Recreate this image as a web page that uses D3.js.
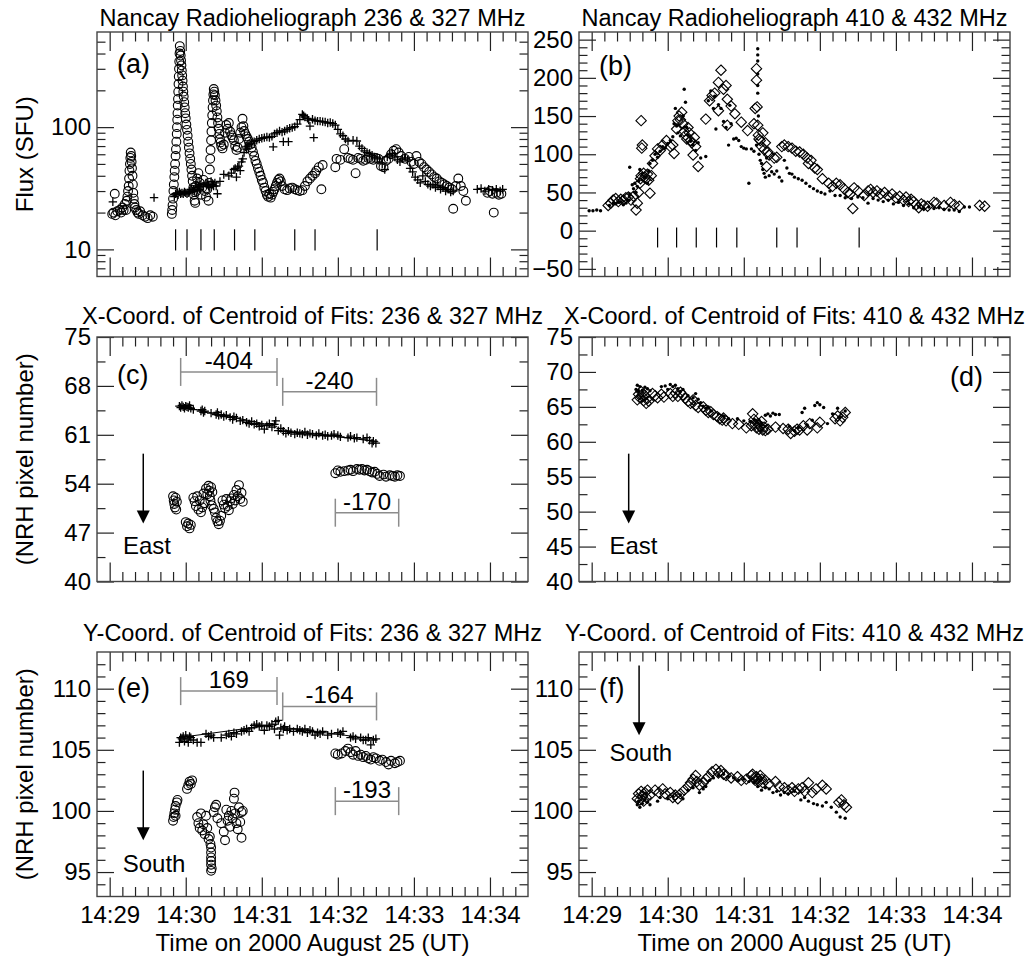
<!DOCTYPE html>
<html>
<head>
<meta charset="utf-8">
<script src="https://cdn.jsdelivr.net/npm/d3@7"></script>
<style>
  body { margin: 0; background: #fff; }
  svg text { font-family: 'Liberation Sans', Arial, Helvetica, sans-serif; }
</style>
</head>
<body>
<svg id="chart" width="1034" height="965"></svg>
<script>
// ---- Observations: [seconds after 14:29:00 UT, value] ----

// (a) flux, 236 MHz (circles) and 327 MHz (plus signs), SFU
const flux236 = [
  [2,19.5],[3,20],[4,28.5],[4.5,19],[6,20.5],[8,21],[9,20],[10,22],[11,21],[12,23.5],[13,21],[13.5,25],[14,27],[14.5,30],[15,33],[15.3,38],[15.6,44],[16,50],[16.3,56],[16.6,62],[17,58],[17.3,52],[17.6,46],[18,40],[18.3,34],[18.6,29],[19,26],[19.5,23.5],[20,22],[21,21],[22,20],[23,19.5],[24,20.5],[26,19],[28,18.5],[30,18],[32,19],[34,18.5],
  [49,19.5],[49.3,21],[49.6,23],[50,26],[50.3,30],[50.6,34],[51,39],[51.3,44],[51.6,50],[52,58],[52.3,66],[52.6,76],[52.9,88],[53.1,100],[53.3,115],[53.5,130],[53.7,150],[53.9,170],[54.1,195],[54.3,225],[54.5,260],[54.7,300],[54.9,345],[55.1,400],[55.3,460],[55.7,420],[56,385],[56.3,350],[56.6,320],[56.9,290],[57.2,265],[57.5,240],[57.8,215],[58.1,195],[58.4,178],[58.8,160],[59.2,145],[59.6,130],[60,118],[60.5,105],[61,95],[61.5,85],[62,76],[62.5,68],[63,61],[63.5,55],[64,50],[64.5,45],[65,40],[65.5,36],[66,32],[66.5,28],[67,25],[67.5,24],[68,33],[68.5,30],[69,38],[70,42],[71,35],[72,28],[73,32],[74,37],[75,30],[76,27],[77,31],[78,25],
  [78.5,35],[79,45],[79.3,55],[79.6,65],[80,78],[80.3,92],[80.6,108],[80.9,125],[81.2,145],[81.5,165],[81.8,185],[82.1,205],[82.5,195],[83,182],[83.5,165],[84,150],[84.5,135],[85,120],[85.5,108],[86,97],[86.5,88],[87,80],[87.5,75],[88,70],[89,67],[90,72],[91,90],[92,104],[93,97],[94,108],[95,92],[96,86],[97,82],[98,78],[99,70],[100,65],[101,68],[102,80],[103,90],[104,100],[104.8,117],[105.5,102],[106,93],[107,88],[108,84],[109,80],[110,76],[111,72],[112,68],[113,63],[114,58],[115,53],[116,50],[117,46],[118,43],[119,40],[120,37],[121,35],[122,32],[123,30],[124,28],[125,27],[126,28.5],[127,26.5],[128,28],[129,29.5],[130,31],[131,33],[132,35],[133,37],[134,38],[135,36],[136,33],[138,31],[140,30.5],[142,31.5],[144,32],[146,31],[148,30.5],[150,30],[152,30.5],[154,33],[156,36],[158,38],[160,40],[162,42],[163,44],[165,47],[167,31],[168,49],
  [178,47],[179,55],[182,54],[185,66],[188,56],[190,55],[192,54],[194,42],[196,56],[198,55],[200,53],[202,54],[204,56],[206,55],[208,54],[210,56],[212,55],[214,48],[216,47],[218,53],[220,55],[222,60],[224,64],[226,66],[228,62],[230,58],[233,55],[236,57],[238,52],[240,50],[242,58],[244,52],[246,50],[248,47],[250,45],[252,43],[254,41],[256,39],[258,38],[260,36],[262,35],[264,34],[266,33],[268,32],[270,31],[271,21.5],[273,33],[275,38],[277,33],[279,30],[281,25],[298,29],[300,30],[302,28.5],[303,20],[305,29],[307,28],[309,28.5]
];
const flux327 = [
  [2.5,24.5],[35,26.5],[51,27],[52,28.5],[53,29],[54,28],[55,29.5],[56,28.5],[57,29],[58,28.5],[59,29.5],[60,29],[61,28.5],[62,29],[63,30],[64,31],[65,29.5],[66,31],[67,30],[68,32],[69,30.5],[70,33],[71,31],[72,34],[74,33],[76,35],[77,34],[78,33],[79,32],[80,36],[81,34],[82,33],[83,35],[84,33],[85,28.5],[87,36],[90,41],[94,40],[96,42],[98,45],[99,46],[100,39],[101,47],[102,48],[103,44],[104,52],[105,55],[106,62],[107,69],[108,66],[109,70],[110,72],[112,74],[114,76],[116,78],[118,80],[120,81],[122,82],[124,83],[126,82],[128,84],[129,69],[130,88],[132,90],[134,93],[136,91],[137,76],[138,93],[140,96],[141,76],[142,98],[144,99],[146,101],[148,106],[150,115],[152,127],[153,124],[154,121],[156,118],[157,114],[158,102],[160,116],[161,82],[162,113],[164,112],[166,112],[168,111],[170,110],[172,108],[174,109],[176,107],[178,104],[180,96],[182,88],[184,85],[186,80],[188,77],[192,78],[195,77],[197,70],[199,67],[201,64],[203,62],[205,61],[207,59],[209,57],[211,56],[213,55],[215,50],[217,45],[219,57],[221,59],[223,61],[225,57],[227,54],[229,52],[231,55],[233,56],[235,54],[237,46],[239,43],[241,39],[243,37],[245,35],[247,40],[249,36],[251,34],[253,33],[255,34],[257,32],[259,33],[261,31],[263,32],[265,30],[267,31],[269,29.5],[271,30],[290,31],[293,31.5],[296,30],[299,31],[302,30.5],[305,31],[308,30],[310,31]
];
// burst-onset markers (seconds)
const markLow = [52, 61, 72, 82.5, 98.5, 114.5, 146, 162, 211];
const markHigh = [52, 67, 82.5, 98.5, 114.5, 146, 162, 211];

// (b) flux, 410 MHz (diamonds) and 432 MHz (dots), SFU
const flux410 = [
  [13,33],[15,36],[17,40],[19,42],[21,38],[23,41],[25,40],[27,43],[29,44],[31,40],[33,45],[35,27],[36,36],[37,50],[38,62],[38.5,68],[39,72],[39,144],[39.5,108],[40,112],[41,75],[42,70],[43,68],[44,74],[45,66],[46,49],[47,72],[48,88],[50,98],[52,107],[54,105],[56,112],[59,118],[62,110],[64,112],[65,101],[67,133],[68,144],[69,150],[70,145],[71,155],[72,140],[73,130],[74,125],[75,120],[76,135],[77,128],[78,118],[79,115],[80,99],[81,122],[82,110],[84,84],[90,146],[93,170],[95,177],[97,180],[100,194],[102,210],[100,157],[104,185],[106,190],[107,172],[107,138],[110,163],[113,153],[118,142],[123,131],[128,140],[129,160],[130,212],[130,197],[130.5,162],[131,138],[131.5,125],[132,120],[133,118],[134,110],[135,128],[136,106],[137,115],[138,84],[139,103],[140,99],[144,95],[146,96],[150,110],[152,112],[155,110],[158,108],[161,104],[164,103],[167,100],[170,95],[171,88],[173,92],[176,82],[178,80],[182,68],[187,62],[190,58],[193,62],[196,60],[199,55],[202,50],[204,48],[206,29],[207,56],[210,52],[215,46],[218,52],[220,54],[222,50],[225,52],[228,48],[231,50],[234,45],[237,48],[240,43],[243,45],[246,40],[248,44],[250,38],[252,41],[254,38],[256,34],[258,30],[260,35],[262,33],[265,32],[270,37],[272,36],[278,33],[283,37],[286,34],[290,32],[306,33],[310,32]
];
const flux432 = [
  [-2,26],[1,26],[4,27],[7,26],[14,33],[17,36],[19,35],[21,37],[23,38],[25,34],[27,36],[29,40],[30,83],[30,48],[32,60],[33,55],[34,62],[35,50],[36,58],[37,65],[38,80],[40,75],[42,70],[44,62],[45,78],[46,88],[48,92],[50,100],[52,96],[54,104],[56,110],[58,108],[60,114],[62,118],[64,123],[65,140],[66,160],[67,137],[68,128],[70,124],[72,150],[73,185],[74,168],[75,135],[76,125],[78,117],[80,112],[82,105],[84,115],[86,95],[90,97],[92,170],[94,183],[96,160],[97,176],[98,133],[100,165],[102,160],[104,143],[106,135],[108,112],[109,164],[110,140],[112,120],[114,121],[116,118],[118,110],[120,108],[122,107],[124,62],[126,107],[128,104],[130,112],[131,238],[131,230],[131,222],[131,205],[131,190],[131,180],[131.5,150],[132,100],[133,92],[134,88],[135,80],[136,75],[137,70],[138,95],[140,72],[142,77],[144,74],[146,78],[148,70],[150,65],[152,92],[154,82],[156,75],[158,74],[160,70],[163,68],[166,66],[169,62],[172,58],[175,55],[178,52],[181,50],[184,48],[188,52],[192,46],[196,46],[200,43],[205,42],[210,44],[214,43],[218,36],[222,42],[226,40],[230,38],[234,40],[238,35],[242,37],[246,33],[250,35],[254,30],[258,31],[262,29],[266,31],[270,29],[274,30],[278,28],[282,27],[286,27],[290,25],[294,31],[298,31]
];

// (c) centroid X, NRH pixel number
const x236 = [
  [50,52.2],[50.5,51.6],[51,51.1],[51.5,50.6],[52,52.0],[52.5,50.3],[53,51.4],[60,48.5],[61,47.9],[62,48.3],[63,47.6],[64,48.1],[66,52.0],[67,51.5],[68,50.8],[69,52.2],[70,50.3],[71,51.6],[72,49.9],[73,50.6],[74,52.6],[75,51.2],[76,53.3],[77,52.5],[78,53.7],[78.5,53.0],[79,52.2],[79.5,51.6],[80,53.5],[80.5,50.9],[81,52.8],[82,50.4],[83,49.9],[84,49.1],[85,48.6],[86,48.2],[87,48.7],[88,49.4],[89,51.6],[90,51.0],[91,50.5],[92,51.8],[93,50.8],[94,50.2],[95,51.5],[96,51.9],[97,51.1],[98,52.4],[99,51.6],[100,53.1],[101,52.2],[102,53.8],[103,51.8],[104,52.7],[105,51.4],
  [178,55.5],[180,55.9],[182,55.7],[185,55.8],[188,55.9],[190,56.0],[192,55.8],[195,56.1],[197,56.0],[199,56.1],[201,55.9],[203,56.0],[205,55.8],[207,55.6],[209,55.7],[211,55.4],[213,55.1],[216,55.3],[218,55.0],[221,55.2],[223,55.1],[225,55.0],[227,55.2],[229,55.1]
];
const x327 = [
  [55,65.1],[56,64.9],[57,65.2],[58,65.0],[59,64.8],[60,65.1],[61,65.0],[62,64.9],[63,65.2],[64,64.8],[66,64.6],[72,64.4],[73,64.6],[74,64.2],[75,64.4],[80,64.1],[84,63.9],[85,64.2],[86,63.8],[88,63.9],[90,63.6],[92,63.8],[95,63.5],[97,63.2],[98,63.6],[100,63.4],[103,63.0],[105,63.1],[108,62.8],[110,62.6],[112,62.9],[114,62.5],[116,62.6],[118,62.2],[120,62.4],[122,61.8],[124,62.3],[126,62.6],[128,62.1],[130,62.5],[131,63.0],[133,61.6],[135,61.9],[137,61.5],[139,61.2],[141,61.5],[143,61.3],[146,61.1],[148,61.3],[150,61.2],[152,61.1],[154,61.4],[156,61.0],[158,61.2],[160,61.1],[163,60.9],[165,61.2],[168,60.9],[170,61.0],[172,60.8],[175,60.9],[177,61.1],[180,60.9],[182,60.7],[188,60.6],[190,60.8],[193,60.5],[195,60.6],[200,60.4],[203,60.6],[205,60.2],[207,59.8],[208,60.1],[210,59.8]
];
const xFit327 = [ [[55,65.1],[132,62.2]], [[136,61.7],[212,60.0]] ];

// (d) centroid X
const x410 = [
  [36,66.0],[37,66.8],[38,66.3],[39,67.2],[40,66.5],[41,65.9],[42,66.6],[43,65.5],[44,66.2],[45,65.8],[48,66.9],[50,66.6],[52,66.3],[55,66.8],[57,66.4],[62,66.9],[64,66.5],[66,67.0],[68,66.5],[70,67.1],[72,66.7],[74,66.2],[76,65.8],[78,65.5],[80,66.0],[82,65.2],[84,64.9],[88,65.0],[90,64.5],[92,64.2],[94,64.3],[96,63.9],[99,63.6],[101,63.3],[103,63.1],[104,63.4],[106,63.0],[111,62.6],[116,62.5],[122,62.0],[126,62.3],[127,64.0],[128,63.2],[129,62.5],[130,62.0],[131,62.6],[132,61.8],[133,62.2],[134,62.9],[135,61.7],[136,62.1],[137,61.6],[139,61.8],[145,62.1],[151,61.9],[155,61.8],[157,61.2],[160,61.5],[162,61.8],[164,61.7],[167,62.3],[170,61.7],[172,62.6],[178,62.0],[180,62.8],[192,63.3],[194,63.7],[196,63.0],[198,63.5],[200,64.2]
];
const x432 = [
  [35,67.5],[36,68.1],[37,67.2],[38,67.9],[40,67.4],[42,67.8],[44,67.6],[46,67.3],[55,67.9],[58,68.0],[60,67.5],[62,68.2],[64,67.9],[66,68.1],[68,67.6],[70,67.2],[72,67.5],[76,66.6],[80,66.3],[82,66.9],[84,66.1],[86,65.6],[88,65.1],[90,64.8],[92,65.0],[94,64.4],[100,64.0],[104,63.7],[108,63.3],[115,63.3],[120,63.0],[125,62.9],[128,63.2],[130,62.8],[132,63.1],[134,62.7],[137,63.8],[139,64.0],[141,63.7],[143,64.1],[145,63.9],[148,63.9],[156,62.2],[160,61.6],[163,62.0],[166,64.2],[168,64.8],[170,62.4],[174,63.1],[176,65.2],[178,65.6],[180,65.3],[183,64.9],[186,62.6],[190,64.0],[194,64.8],[196,63.5],[200,64.4]
];

// (e) centroid Y
const y236 = [
  [50,99.2],[50.5,99.5],[51,99.8],[51.5,100.1],[52,100.4],[52,99.6],[53,100.7],[53.5,100.9],[61,101.8],[62,102.1],[63,102.4],[64,102.2],[65,102.5],[69,99.5],[70,99.0],[71,98.6],[72,99.8],[73,98.4],[74,98.9],[75,98.1],[76,99.6],[77,98.6],[78,97.7],[79,97.9],[79.5,97.3],[80,97.0],[80,96.6],[80,96.2],[80,95.9],[80,95.6],[80.5,95.3],[80,95.1],[82,99.9],[83,100.3],[84,100.5],[85,99.4],[88,99.0],[90,98.3],[91,97.6],[92,100.1],[93,99.2],[94,99.6],[95,98.7],[96,100.0],[97,99.4],[98,101.0],[99,99.8],[100,99.0],[101,98.5],[102,100.3],[103,99.1],[104,99.9],[105,100.0],[98.5,101.5],[104,97.8],
  [178,104.7],[180,104.6],[183,104.7],[186,104.9],[188,105.1],[190,104.8],[192,104.6],[194,104.9],[196,104.5],[198,104.6],[200,104.4],[202,104.5],[204,104.3],[206,104.2],[208,104.4],[210,104.3],[213,104.1],[215,104.2],[218,104.0],[220,103.8],[222,104.1],[225,103.9],[227,104.0],[229,104.1]
];
const y327 = [
  [55,105.6],[56,106.0],[57,105.9],[58,106.1],[59,105.7],[60,106.2],[61,105.9],[62,105.6],[63,106.1],[64,106.0],[66,105.8],[69,105.6],[72,105.6],[76,106.3],[78,106.1],[80,106.2],[82,106.0],[88,106.0],[92,106.2],[94,106.3],[96,106.1],[98,106.4],[100,106.3],[104,106.5],[106,106.6],[108,106.7],[110,106.5],[112,106.8],[114,107.0],[116,107.1],[118,106.9],[120,107.0],[122,106.6],[124,107.0],[126,106.9],[128,107.1],[130,106.7],[131,107.3],[133,107.4],[134,106.2],[135,106.8],[137,106.7],[138,106.9],[140,106.6],[142,106.7],[145,106.5],[148,106.7],[150,106.6],[152,106.5],[154,106.7],[156,106.4],[158,106.6],[160,106.5],[162,106.2],[164,106.4],[166,106.3],[168,106.5],[172,106.2],[175,106.3],[180,106.4],[182,106.3],[184,106.5],[190,106.0],[192,106.1],[194,105.9],[198,106.0],[200,105.8],[202,105.8],[204,106.0],[206,105.4],[208,105.8],[210,105.9]
];
const yFit327 = [ [[55,106.0],[133,107.1]], [[136,106.85],[211,105.85]] ];

// (f) centroid Y
const y410 = [
  [36,101.0],[37,101.4],[38,100.9],[39,101.6],[40,101.2],[41,100.8],[42,101.5],[43,101.1],[44,101.7],[46,101.3],[50,101.7],[53,101.5],[56,101.8],[58,101.4],[62,101.5],[64,101.1],[66,101.3],[68,101.0],[70,101.4],[73,101.7],[76,102.0],[78,102.3],[80,102.6],[82,102.9],[83,102.4],[85,102.1],[88,102.3],[90,102.6],[92,102.8],[95,103.2],[98,103.4],[100,103.1],[102,103.3],[104,103.0],[106,102.9],[110,102.7],[115,102.8],[118,102.5],[122,102.6],[126,102.9],[127,103.0],[128,102.7],[129,102.5],[130,102.8],[131,102.6],[132,102.4],[133,102.9],[134,102.6],[135,102.3],[137,102.5],[140,102.2],[145,102.4],[148,102.0],[152,101.9],[155,101.7],[158,101.9],[160,101.6],[163,101.8],[166,101.9],[168,101.6],[171,102.3],[174,101.5],[177,101.8],[182,102.1],[185,101.8],[195,100.7],[197,100.9],[199,100.5],[201,100.3]
];
const y432 = [
  [36,100.5],[37,100.8],[38,100.3],[40,100.6],[42,100.9],[44,100.7],[46,100.5],[52,100.8],[54,101.1],[60,101.0],[64,101.2],[70,101.3],[72,101.0],[76,101.7],[80,101.9],[85,101.5],[88,101.8],[90,102.0],[93,102.5],[96,102.7],[100,102.9],[104,103.0],[108,102.8],[112,102.7],[116,102.5],[120,102.6],[124,102.4],[128,102.3],[131,102.0],[134,101.7],[137,101.9],[140,101.8],[143,101.5],[146,101.6],[149,101.3],[152,101.5],[155,101.4],[160,101.6],[165,100.9],[168,101.1],[171,100.8],[175,100.6],[178,100.5],[182,100.4],[185,100.7],[189,100.3],[193,99.9],[196,99.5],[200,99.4]
];

// speed brackets: [start s, end s, level, label]
const xBrackets = [[56,132,70.0,'-404'],[136.5,210.5,67.15,'-240'],[178,228,49.85,'-170']];
const yBrackets = [[56,132,109.8,'169'],[136.5,210.5,108.55,'-164'],[178,228,100.8,'-193']];

// axis tick values
const fluxTicks = [10, 100];
const flux2Ticks = [-50, 0, 50, 100, 150, 200, 250];
const xCoordTicks236 = [40, 47, 54, 61, 68, 75];
const xCoordTicks410 = [40, 45, 50, 55, 60, 65, 70, 75];
const yCoordTicks = [95, 100, 105, 110];

const titles = [
  'Nancay Radioheliograph 236 & 327 MHz', 'Nancay Radioheliograph 410 & 432 MHz',
  'X-Coord. of Centroid of Fits: 236 & 327 MHz', 'X-Coord. of Centroid of Fits: 410 & 432 MHz',
  'Y-Coord. of Centroid of Fits: 236 & 327 MHz', 'Y-Coord. of Centroid of Fits: 410 & 432 MHz'
];

// ---- layout ----
const FONT = "'Liberation Sans', Arial, Helvetica, sans-serif";
const svg = d3.select('#chart');
const W = 431, H = 244.5;
const colX = [97, 579];
const rowY = [32, 337, 652];
const titleBase = [26, 324, 641];
const T0 = Date.UTC(2000, 7, 25, 14, 29, 0);
const at = s => new Date(T0 + s * 1000);
const timeDomain = [at(-10), at(330)];

function styleAxis(sel) {
  sel.select('.domain').remove();
  sel.selectAll('line').attr('stroke', '#222').attr('stroke-width', 1.2);
  sel.selectAll('text').attr('font-size', 24).attr('font-family', FONT).attr('fill', '#000');
}

function makePanel(col, row, cfg) {
  const g = svg.append('g').attr('transform', `translate(${colX[col]},${rowY[row]})`);
  const x = d3.scaleUtc().domain(timeDomain).range([0, W]);
  const y = (cfg.log ? d3.scaleLog() : d3.scaleLinear()).domain(cfg.domain).range([H, 0]);

  // time ticks: minutes major, 10 s minor, on top and bottom edges
  const majorX = x.ticks(d3.utcMinute.every(1));
  const minorX = x.ticks(d3.utcSecond.every(10))
    .filter(d => d.getUTCSeconds() !== 0 && +d > +timeDomain[0] && +d < +timeDomain[1]);
  g.append('g').attr('transform', `translate(0,${H})`)
    .call(d3.axisBottom(x).tickValues(minorX).tickSize(-9.5).tickFormat('')).call(styleAxis);
  g.append('g').attr('transform', `translate(0,${H})`)
    .call(d3.axisBottom(x).tickValues(majorX).tickSize(-19).tickPadding(9)
      .tickFormat(row === 2 ? d3.utcFormat('%H:%M') : '')).call(styleAxis);
  g.append('g').call(d3.axisTop(x).tickValues(minorX).tickSize(-9.5).tickFormat('')).call(styleAxis);
  g.append('g').call(d3.axisTop(x).tickValues(majorX).tickSize(-19).tickFormat('')).call(styleAxis);

  // value ticks on left and right edges
  const lo = cfg.domain[0], hi = cfg.domain[1];
  const minorY = (cfg.log ? y.ticks() : d3.range(lo, hi + 1e-6, cfg.minorStep))
    .filter(v => v > lo + 1e-6 && v < hi - 1e-6 && !cfg.ticks.some(t => Math.abs(t - v) < 1e-6));
  const fmt = d3.format('d');
  g.append('g').call(d3.axisLeft(y).tickValues(minorY).tickSize(-8.5).tickFormat('')).call(styleAxis);
  g.append('g').call(d3.axisLeft(y).tickValues(cfg.ticks).tickSize(-17).tickPadding(6).tickFormat(fmt)).call(styleAxis);
  g.append('g').attr('transform', `translate(${W},0)`)
    .call(d3.axisRight(y).tickValues(minorY).tickSize(-8.5).tickFormat('')).call(styleAxis);
  g.append('g').attr('transform', `translate(${W},0)`)
    .call(d3.axisRight(y).tickValues(cfg.ticks).tickSize(-17).tickFormat('')).call(styleAxis);

  g.append('rect').attr('width', W).attr('height', H)
    .attr('fill', 'none').attr('stroke', '#444').attr('stroke-width', 1.4);

  svg.append('text').attr('x', colX[col] + W / 2).attr('y', titleBase[row])
    .attr('text-anchor', 'middle').attr('font-size', 23.5).text(titles[row * 2 + col]);

  const lab = g.append('text').attr('font-size', 27).text(cfg.letter);
  if (cfg.letterRight) lab.attr('x', W - 27).attr('text-anchor', 'end').attr('y', cfg.letterY);
  else lab.attr('x', 20).attr('y', cfg.letterY);

  return { g, x, y };
}

const symbolPaths = {
  plus: 'M-4.2,0H4.2M0,-4.2V4.2',
  diamond: 'M0,-5.2L5.2,0L0,5.2L-5.2,0Z'
};

function drawPoints(p, data, kind) {
  const { g, x, y } = p;
  const layer = g.append('g');
  if (kind === 'circle') {
    layer.selectAll('circle').data(data).join('circle')
      .attr('cx', d => x(at(d[0]))).attr('cy', d => y(d[1])).attr('r', 4.4)
      .attr('fill', 'none').attr('stroke', '#000').attr('stroke-width', 1.1);
  } else if (kind === 'dot') {
    layer.selectAll('circle').data(data).join('circle')
      .attr('cx', d => x(at(d[0]))).attr('cy', d => y(d[1])).attr('r', 1.7).attr('fill', '#000');
  } else {
    layer.selectAll('path').data(data).join('path')
      .attr('transform', d => `translate(${x(at(d[0]))},${y(d[1])})`)
      .attr('d', symbolPaths[kind]).attr('fill', 'none').attr('stroke', '#000')
      .attr('stroke-width', kind === 'plus' ? 1.3 : 1.1);
  }
}

function drawFits(p, fits) {
  const line = d3.line().x(d => p.x(at(d[0]))).y(d => p.y(d[1]));
  p.g.append('g').selectAll('path').data(fits).join('path')
    .attr('d', line).attr('fill', 'none').attr('stroke', '#000').attr('stroke-width', 1);
}

function drawBrackets(p, list) {
  const bg = p.g.append('g').attr('stroke', '#8c8c8c').attr('stroke-width', 1.5);
  list.forEach(([t0, t1, v, label]) => {
    const xa = p.x(at(t0)), xb = p.x(at(t1)), yy = p.y(v);
    bg.append('line').attr('x1', xa).attr('x2', xb).attr('y1', yy).attr('y2', yy);
    bg.append('line').attr('x1', xa).attr('x2', xa).attr('y1', yy - 14).attr('y2', yy + 14);
    bg.append('line').attr('x1', xb).attr('x2', xb).attr('y1', yy - 14).attr('y2', yy + 14);
    p.g.append('text').attr('x', (xa + xb) / 2).attr('y', yy - 3)
      .attr('text-anchor', 'middle').attr('font-size', 24).text(label);
  });
}

function drawArrow(p, t, vFrom, vTo, word, tWord, vWord) {
  const xx = p.x(at(t)), y0 = p.y(vFrom), y1 = p.y(vTo);
  p.g.append('line').attr('x1', xx).attr('x2', xx).attr('y1', y0).attr('y2', y1 - 12)
    .attr('stroke', '#000').attr('stroke-width', 1.5);
  p.g.append('path').attr('d', `M${xx - 6.5},${y1 - 13}L${xx + 6.5},${y1 - 13}L${xx},${y1}Z`).attr('fill', '#000');
  p.g.append('text').attr('x', p.x(at(tWord))).attr('y', p.y(vWord)).attr('font-size', 24).text(word);
}

function drawMarks(p, times, vLo, vHi) {
  p.g.append('g').selectAll('line').data(times).join('line')
    .attr('x1', d => p.x(at(d))).attr('x2', d => p.x(at(d)))
    .attr('y1', p.y(vLo)).attr('y2', p.y(vHi))
    .attr('stroke', '#000').attr('stroke-width', 1.2);
}

// (a)
const pa = makePanel(0, 0, { log: true, domain: [6, 600], ticks: fluxTicks, letter: '(a)', letterY: 41 });
drawMarks(pa, markLow, 9.8, 14.6);
drawPoints(pa, flux236, 'circle');
drawPoints(pa, flux327, 'plus');

// (b)
const pb = makePanel(1, 0, { domain: [-60, 260], ticks: flux2Ticks, minorStep: 10, letter: '(b)', letterY: 43 });
drawMarks(pb, markHigh, -22, 4);
drawPoints(pb, flux410, 'diamond');
drawPoints(pb, flux432, 'dot');

// (c)
const pc = makePanel(0, 1, { domain: [40, 75], ticks: xCoordTicks236, minorStep: 3.5, letter: '(c)', letterY: 47 });
drawBrackets(pc, xBrackets);
drawFits(pc, xFit327);
drawPoints(pc, x236, 'circle');
drawPoints(pc, x327, 'plus');
drawArrow(pc, 26.5, 58.3, 48.3, 'East', 10.5, 44.0);

// (d)
const pd = makePanel(1, 1, { domain: [40, 75], ticks: xCoordTicks410, minorStep: 2.5, letter: '(d)', letterRight: true, letterY: 49 });
drawPoints(pd, x410, 'diamond');
drawPoints(pd, x432, 'dot');
drawArrow(pd, 29.2, 58.3, 48.3, 'East', 14.0, 44.0);

// (e)
const pe = makePanel(0, 2, { domain: [93, 113], ticks: yCoordTicks, minorStep: 1, letter: '(e)', letterY: 45 });
drawBrackets(pe, yBrackets);
drawFits(pe, yFit327);
drawPoints(pe, y236, 'circle');
drawPoints(pe, y327, 'plus');
drawArrow(pe, 26.5, 103.3, 97.6, 'South', 10.3, 95.0);

// (f)
const pf = makePanel(1, 2, { domain: [93, 113], ticks: yCoordTicks, minorStep: 1, letter: '(f)', letterY: 45 });
drawPoints(pf, y410, 'diamond');
drawPoints(pf, y432, 'dot');
drawArrow(pf, 37.4, 111.9, 106.2, 'South', 14.0, 104.1);

// axis titles
const leftLabels = [['Flux (SFU)', 0], ['(NRH pixel number)', 1], ['(NRH pixel number)', 2]];
leftLabels.forEach(([txt, r]) => {
  svg.append('text').attr('transform', `translate(33,${rowY[r] + H / 2}) rotate(-90)`)
    .attr('text-anchor', 'middle').attr('font-size', 24).text(txt);
});
colX.forEach(cx => {
  svg.append('text').attr('x', cx + W / 2).attr('y', rowY[2] + H + 54)
    .attr('text-anchor', 'middle').attr('font-size', 24).text('Time on 2000 August 25 (UT)');
});
</script>
</body>
</html>
